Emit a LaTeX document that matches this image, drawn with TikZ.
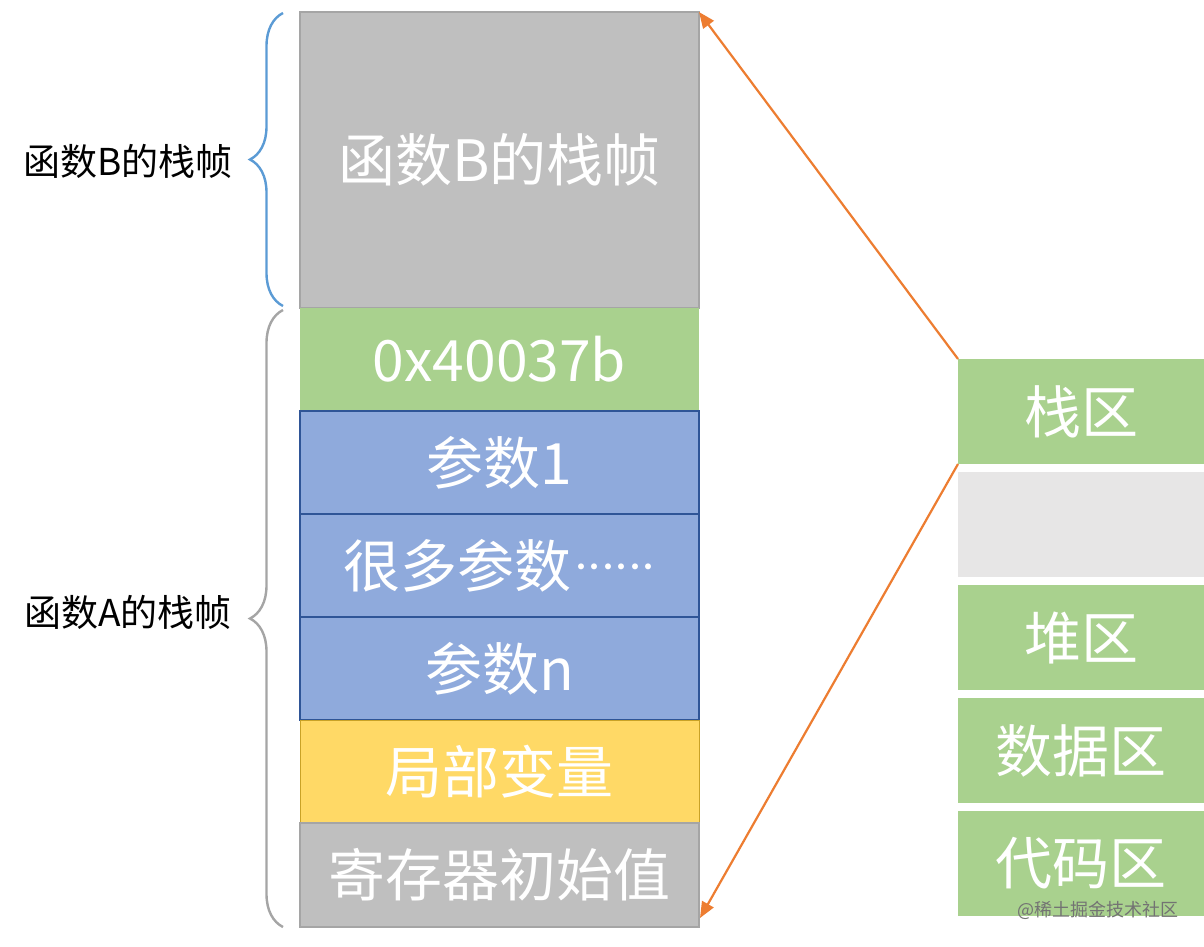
\documentclass[tikz,border=0pt]{standalone}
\usepackage{fontspec}
\setmainfont{Noto Sans CJK SC}
\usetikzlibrary{decorations.pathreplacing,arrows.meta}
\definecolor{cgray}{HTML}{BFBFBF}
\definecolor{cgrayd}{HTML}{A5A5A5}
\definecolor{cgreen}{HTML}{A9D18E}
\definecolor{cblue}{HTML}{8FAADC}
\definecolor{cblued}{HTML}{2F5597}
\definecolor{cyellow}{HTML}{FFD966}
\definecolor{cyellowd}{HTML}{C9A227}
\definecolor{clight}{HTML}{E7E6E6}
\definecolor{corange}{HTML}{ED7D31}
\definecolor{cbrace}{HTML}{5B9BD5}
\newcommand{\mdot}{\makebox[13.5pt]{\fontsize{28}{28}\selectfont\raisebox{10pt}{·}}}
\begin{document}
\begin{tikzpicture}[x=1pt,y=-1pt,
  cell/.style={anchor=north west, minimum width=399pt, inner sep=0pt, outer sep=0pt,
    line width=1.3pt, text=white, font=\fontsize{57}{64}\selectfont},
  seg/.style={anchor=north west, minimum width=246pt, minimum height=105pt, inner sep=0pt,
    outer sep=0pt, fill=cgreen, text=white, font=\fontsize{57}{64}\selectfont},
  side/.style={font=\fontsize{37}{42}\selectfont, text=black},
  arr/.style={draw=corange, line width=2.2pt, -{Triangle[length=16pt,width=13pt]}},
  bracestyle/.style={line width=2.4pt, decorate, decoration={brace, amplitude=33pt}}]
\useasboundingbox (0,0) rectangle (1204,946);
\fill[white] (0,0) rectangle (1204,946);
% left stack
\node[cell, fill=cgray, draw=cgrayd, minimum height=296pt] (fB) at (300,12) {函数B的栈帧};
\node[cell, fill=cgreen, minimum height=103pt] (ret) at (300,308) {0x40037b};
\node[cell, fill=cblue, draw=cblued, minimum height=103pt] (p1) at (300,411) {参数1};
\node[cell, fill=cblue, draw=cblued, minimum height=103pt] (pm) at (300,514) {很多参数\hspace{3pt}\mdot\mdot\mdot\mdot\mdot\mdot};
\node[cell, fill=cblue, draw=cblued, minimum height=103pt] (pn) at (300,617) {参数n};
\node[cell, fill=cyellow, draw=cyellowd, line width=0.8pt, minimum height=103pt] (loc) at (300,720) {局部变量};
\node[cell, fill=cgray, draw=cgrayd, minimum height=104pt] (reg) at (300,823) {寄存器初始值};
% right memory layout
\node[seg] (stack) at (958,359) {栈区};
\node[seg, fill=clight] (gap) at (958,472) {};
\node[seg] (heap) at (958,585) {堆区};
\node[seg] (data) at (958,698) {数据区};
\node[seg] (code) at (958,811) {代码区};
\node[font=\fontsize{18}{20}\selectfont, text=black!55] (wm) at (1098,910) {@稀土掘金技术社区};
% arrows
\coordinate (bend) at (700,918);
\draw[arr] (stack.north west) -- (fB.north east);
\draw[arr] (stack.south west) -- (bend);
% braces
\draw[bracestyle, draw=cbrace] (283,306) -- (283,13);
\draw[bracestyle, draw=cgrayd] (283,927) -- (283,310);
\node[side] (lB) at (128,161) {函数B的栈帧};
\node[side] (lA) at (128,612) {函数A的栈帧};
\end{tikzpicture}
\end{document}
